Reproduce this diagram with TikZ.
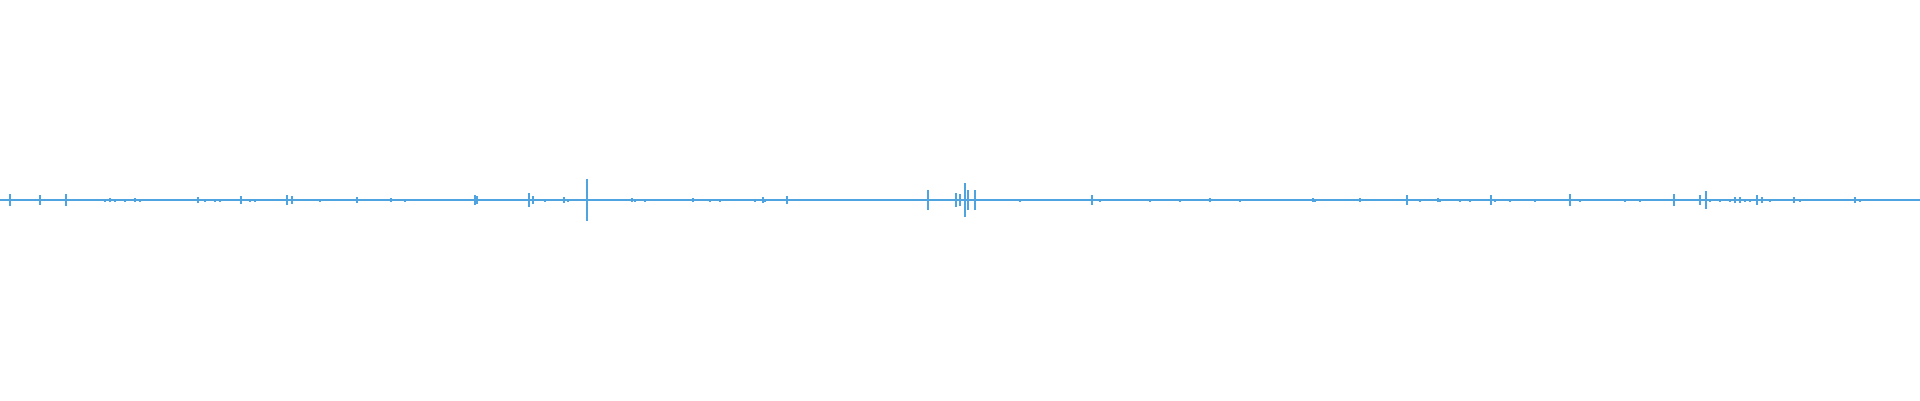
\documentclass[tikz,border=0pt]{standalone}
\definecolor{wave}{HTML}{4FA3DE}
\begin{document}
\begin{tikzpicture}[x=1cm,y=1cm,wv/.style={draw=wave,line width=0.35pt}]
\useasboundingbox (0,0) rectangle (19.2,4);
\coordinate (l) at (0,2.0);
\coordinate (r) at (19.2,2.0);
\draw[wv,line width=0.5pt] (l) -- (r);
% spikes: x (cm), half height (cm)
\foreach \x/\h in {0.10/0.06,0.40/0.05,0.66/0.06,1.10/0.02,1.35/0.02,1.98/0.03,2.41/0.04,2.87/0.05,2.92/0.04,3.57/0.03,3.91/0.02,4.75/0.05,4.77/0.04,5.29/0.07,5.33/0.04,5.64/0.03,5.87/0.21,6.32/0.02,6.93/0.02,7.63/0.03,7.87/0.04,9.28/0.10,9.56/0.07,9.60/0.06,9.65/0.17,9.68/0.10,9.75/0.10,10.92/0.05,12.10/0.02,13.13/0.02,13.60/0.02,14.07/0.05,14.38/0.02,14.91/0.05,15.70/0.06,16.74/0.06,17.00/0.05,17.06/0.09,17.35/0.03,17.40/0.03,17.57/0.05,17.62/0.03,17.94/0.03,18.55/0.03}
  { \draw[wv] (\x,2.0-\h) -- (\x,2.0+\h); }
% small noise
\foreach \x in {1.05,1.15,1.25,1.40,2.05,2.15,2.20,2.50,2.55,3.20,4.05,5.45,5.68,6.35,6.45,7.10,7.20,7.55,7.65,10.20,11.00,11.50,11.80,12.40,13.15,14.20,14.40,14.60,14.70,14.95,15.10,15.35,15.80,16.25,16.40,17.10,17.20,17.30,17.45,17.50,17.70,18.00,18.60}
  { \draw[wv] (\x,1.985) -- (\x,2.015); }
\end{tikzpicture}
\end{document}
